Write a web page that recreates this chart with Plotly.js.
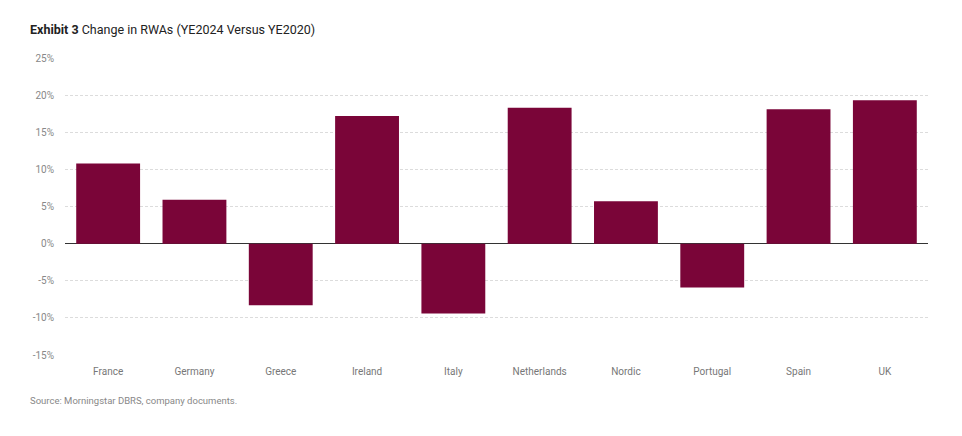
<!DOCTYPE html>
<html>
<head>
<meta charset="utf-8">
<script src="https://cdn.plot.ly/plotly-3.0.1.min.js"></script>
<style>html,body{margin:0;padding:0;background:#fff;}#chart{width:962px;height:436px;}</style>
</head>
<body>
<div id="chart"></div>
<script>
var categories = ["France","Germany","Greece","Ireland","Italy","Netherlands","Nordic","Portugal","Spain","UK"];
var changePct = [10.8, 5.9, -8.3, 17.2, -9.4, 18.3, 5.7, -5.9, 18.1, 19.3];
var yTickVals = [-15,-10,-5,0,5,10,15,20,25];
var yTickText = ["-15%","-10%","-5%","0%","5%","10%","15%","20%","25%"];

var fontFam = "'Liberation Sans Narrow', 'Roboto', sans-serif";

var trace = {
  type: "bar",
  x: categories,
  y: changePct,
  marker: {color: "#7a0538"},
  hoverinfo: "x+y"
};

var layout = {
  width: 962, height: 436,
  margin: {l: 65, r: 34, t: 58, b: 81},
  paper_bgcolor: "#fff", plot_bgcolor: "#fff",
  bargap: 0.26,
  showlegend: false,
  font: {family: fontFam, size: 10, color: "#888"},
  xaxis: {
    showgrid: false, zeroline: false, showline: false,
    ticks: "", tickfont: {family: fontFam, size: 10, color: "#777"},
    ticklabelstandoff: 9
  },
  yaxis: {
    range: [-15, 25],
    tickvals: yTickVals, ticktext: yTickText,
    showgrid: true, gridcolor: "#dcdcdc", griddash: "3px,2px", gridwidth: 1,
    zeroline: true, zerolinecolor: "#333", zerolinewidth: 1.5,
    showline: false, ticks: "",
    tickfont: {family: fontFam, size: 10, color: "#888"},
    ticklabelstandoff: 10
  },
  annotations: [
    {xref: "paper", yref: "paper", x: -0.043, y: 1.0, xanchor: "left", yanchor: "bottom",
     yshift: 19, showarrow: false, align: "left",
     text: "<b>Exhibit 3</b> Change in RWAs (YE2024 Versus YE2020)",
     font: {family: fontFam, size: 12.5, color: "#222"}},
    {xref: "paper", yref: "paper", x: -0.043, y: 0, xanchor: "left", yanchor: "top",
     yshift: -38, showarrow: false, align: "left",
     text: "Source: Morningstar DBRS, company documents.",
     font: {family: fontFam, size: 9.5, color: "#888"}}
  ]
};

Plotly.newPlot("chart", [trace], layout, {displayModeBar: false, staticPlot: true});
</script>
</body>
</html>
